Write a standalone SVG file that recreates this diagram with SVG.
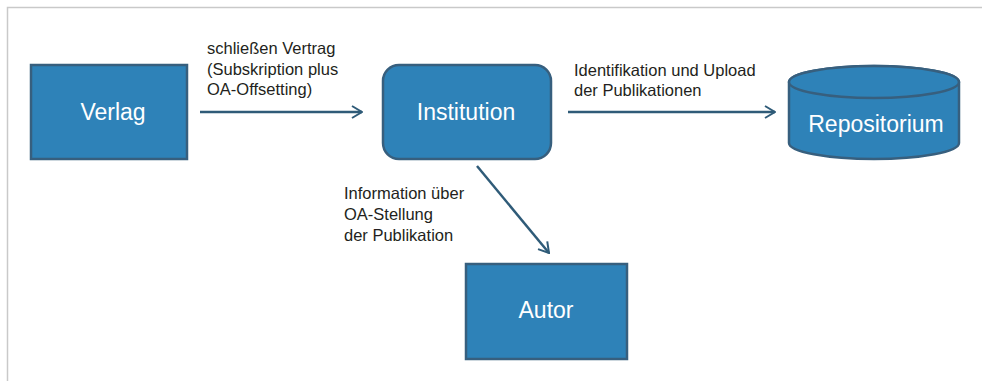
<svg xmlns="http://www.w3.org/2000/svg" width="982" height="381" viewBox="0 0 982 381">
<defs>
<style>
.node{fill:#2e82b8;stroke:#375f7e;stroke-width:2.5}
.nt{font-family:"Liberation Sans",Arial,sans-serif;font-size:23px;fill:#ffffff;text-anchor:middle}
.lb{font-family:"Liberation Sans",Arial,sans-serif;font-size:16.5px;fill:#231f20}
.edge{stroke:#2f5b78;stroke-width:2.5;fill:none}
</style>
<marker id="arr" viewBox="0 0 12 14" refX="11" refY="7" markerWidth="12" markerHeight="14" markerUnits="userSpaceOnUse" orient="auto">
<path d="M1,1 L11,7 L1,13" fill="none" stroke="#2f5b78" stroke-width="2"/>
</marker>
</defs>
<rect width="982" height="381" fill="#ffffff"/>
<path d="M7.5,381 L7.5,7.5 L982,7.5" fill="none" stroke="#c9c9c9" stroke-width="1.5"/>
<g id="connectors">
<line class="edge" x1="200" y1="112" x2="362" y2="112" marker-end="url(#arr)"/>
<line class="edge" x1="568" y1="112" x2="775" y2="112" marker-end="url(#arr)"/>
<line class="edge" x1="477" y1="166" x2="549" y2="253" marker-end="url(#arr)"/>
<text class="lb" x="207" y="54">schließen Vertrag</text>
<text class="lb" x="207" y="75">(Subskription plus</text>
<text class="lb" x="207" y="95">OA-Offsetting)</text>
<text class="lb" x="574" y="76">Identifikation und Upload</text>
<text class="lb" x="574" y="96">der Publikationen</text>
<text class="lb" x="344" y="199">Information über</text>
<text class="lb" x="344" y="220">OA-Stellung</text>
<text class="lb" x="344" y="241">der Publikation</text>
</g>
<g id="verlag">
<rect class="node" x="31" y="65" width="156" height="94"/>
<text class="nt" x="113" y="120">Verlag</text>
</g>
<g id="institution">
<rect class="node" x="383" y="65" width="168" height="94" rx="16" ry="16"/>
<text class="nt" x="466" y="120">Institution</text>
</g>
<g id="repositorium">
<path class="node" d="M789,82 L789,143 A85,16 0 0 0 959,143 L959,82 A85,16 0 0 0 789,82 Z"/>
<ellipse class="node" cx="874" cy="82" rx="85" ry="16"/>
<text class="nt" x="876" y="132">Repositorium</text>
</g>
<g id="autor">
<rect class="node" x="466" y="264" width="161" height="95"/>
<text class="nt" x="546" y="318">Autor</text>
</g>
</svg>
